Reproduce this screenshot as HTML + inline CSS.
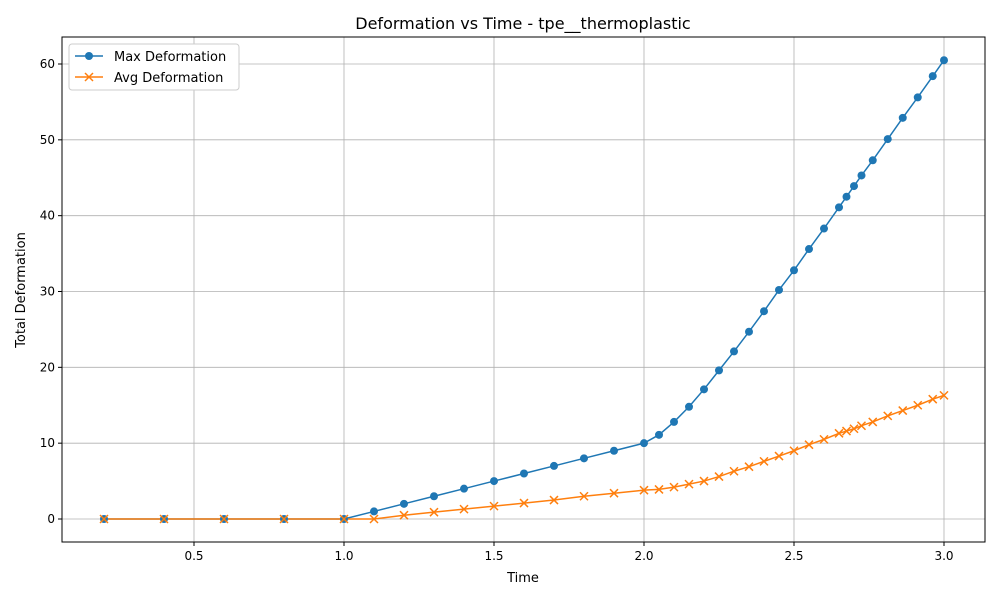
<!DOCTYPE html>
<html><head><meta charset="utf-8"><style>
body{margin:0;background:#fff;font-family:"Liberation Sans","DejaVu Sans",sans-serif;}
svg text{font-family:"DejaVu Sans","Liberation Sans",sans-serif;}
</style></head><body>
<svg id="chart" width="1000" height="600">
<rect width="1000" height="600" fill="#fff"/>
<g id="grid"></g><g id="axes"></g><g id="series"></g>
<text x="523" y="29" text-anchor="middle" font-size="16">Deformation vs Time - tpe__thermoplastic</text>
<text x="523" y="582" text-anchor="middle" font-size="13">Time</text>
<text x="25" y="290" text-anchor="middle" font-size="13" transform="rotate(-90 25 290)">Total Deformation</text>
<g>
<rect x="69" y="44" width="170" height="46" fill="#fff" stroke="#ccc" rx="3"/>
<line x1="75" y1="56" x2="103" y2="56" stroke="#1f77b4" stroke-width="1.5"/><circle cx="89" cy="56" r="4" fill="#1f77b4"/>
<text x="114" y="61" font-size="13">Max Deformation</text>
<line x1="75" y1="77" x2="103" y2="77" stroke="#ff7f0e" stroke-width="1.5"/>
<path d="M85,73L93,81M93,73L85,81" stroke="#ff7f0e" stroke-width="1.5"/>
<text x="114" y="82" font-size="13">Avg Deformation</text>
</g>
</svg>
<script>
const times=[0.2,0.4,0.6,0.8,1.0,1.1,1.2,1.3,1.4,1.5,1.6,1.7,1.8,1.9,2.0,2.05,2.1,2.15,2.2,2.25,2.3,2.35,2.4,2.45,2.5,2.55,2.6,2.65,2.675,2.7,2.725,2.7625,2.8125,2.8625,2.9125,2.9625,3.0];
const maxDef=[0,0,0,0,0,1,2,3,4,5,6,7,8,9,10,11.1,12.8,14.8,17.1,19.6,22.1,24.7,27.4,30.2,32.8,35.6,38.3,41.1,42.5,43.9,45.3,47.3,50.1,52.9,55.6,58.4,60.5];
const avgDef=[0,0,0,0,0,0,0.5,0.9,1.3,1.7,2.1,2.5,3.0,3.4,3.8,3.9,4.2,4.6,5.0,5.6,6.3,6.9,7.6,8.3,9.0,9.8,10.5,11.3,11.6,11.9,12.3,12.8,13.6,14.3,15.0,15.8,16.3];
const xTicks=[0.5,1.0,1.5,2.0,2.5,3.0];
const yTicks=[0,10,20,30,40,50,60];
const L=62,R=985,T=37,B=542;
const xs=v=>44+300*v, ys=v=>519-(455/60)*v;
const NS="http://www.w3.org/2000/svg";
function mk(tag,attrs,parent){const e=document.createElementNS(NS,tag);for(const k in attrs)e.setAttribute(k,attrs[k]);parent.appendChild(e);return e;}
const grid=document.getElementById('grid'),axes=document.getElementById('axes'),ser=document.getElementById('series');
xTicks.forEach(t=>{const x=xs(t);
 const g=mk('line',{x1:x,x2:x,y1:T,y2:B,stroke:'#b0b0b0','stroke-width':0.8},grid);
 
 
 mk('line',{x1:x,x2:x,y1:B,y2:B+4,stroke:'#000'},axes);
 const tx=mk('text',{x:x,y:B+18,'text-anchor':'middle','font-size':12},axes);tx.textContent=t.toFixed(1);
 
 });
yTicks.forEach(t=>{const y=ys(t);
 const g=mk('line',{x1:L,x2:R,y1:y,y2:y,stroke:'#b0b0b0','stroke-width':0.8},grid);
 
 
 mk('line',{x1:L-4,x2:L,y1:y,y2:y,stroke:'#000'},axes);
 const tx=mk('text',{x:L-7,y:y+4,'text-anchor':'end','font-size':12},axes);tx.textContent=t;
 
 });
const fr=mk('rect',{x:L,y:T,width:R-L,height:B-T,fill:'none',stroke:'#000','stroke-width':1},axes);


function line(vals,color,name){
 const p=mk('polyline',{points:times.map((t,i)=>xs(t)+','+ys(vals[i])).join(' '),fill:'none',stroke:color,'stroke-width':1.5},ser);
 
 }
line(maxDef,'#1f77b4','max-deformation-line');
line(avgDef,'#ff7f0e','avg-deformation-line');
times.forEach((t,i)=>{const c=mk('circle',{cx:xs(t),cy:ys(maxDef[i]),r:4,fill:'#1f77b4'},ser);
 
 });
times.forEach((t,i)=>{const x=xs(t),y=ys(avgDef[i]);
 const m=mk('path',{d:`M${x-4},${y-4}L${x+4},${y+4}M${x+4},${y-4}L${x-4},${y+4}`,stroke:'#ff7f0e','stroke-width':1.5},ser);
 
 });
</script>
</body></html>
